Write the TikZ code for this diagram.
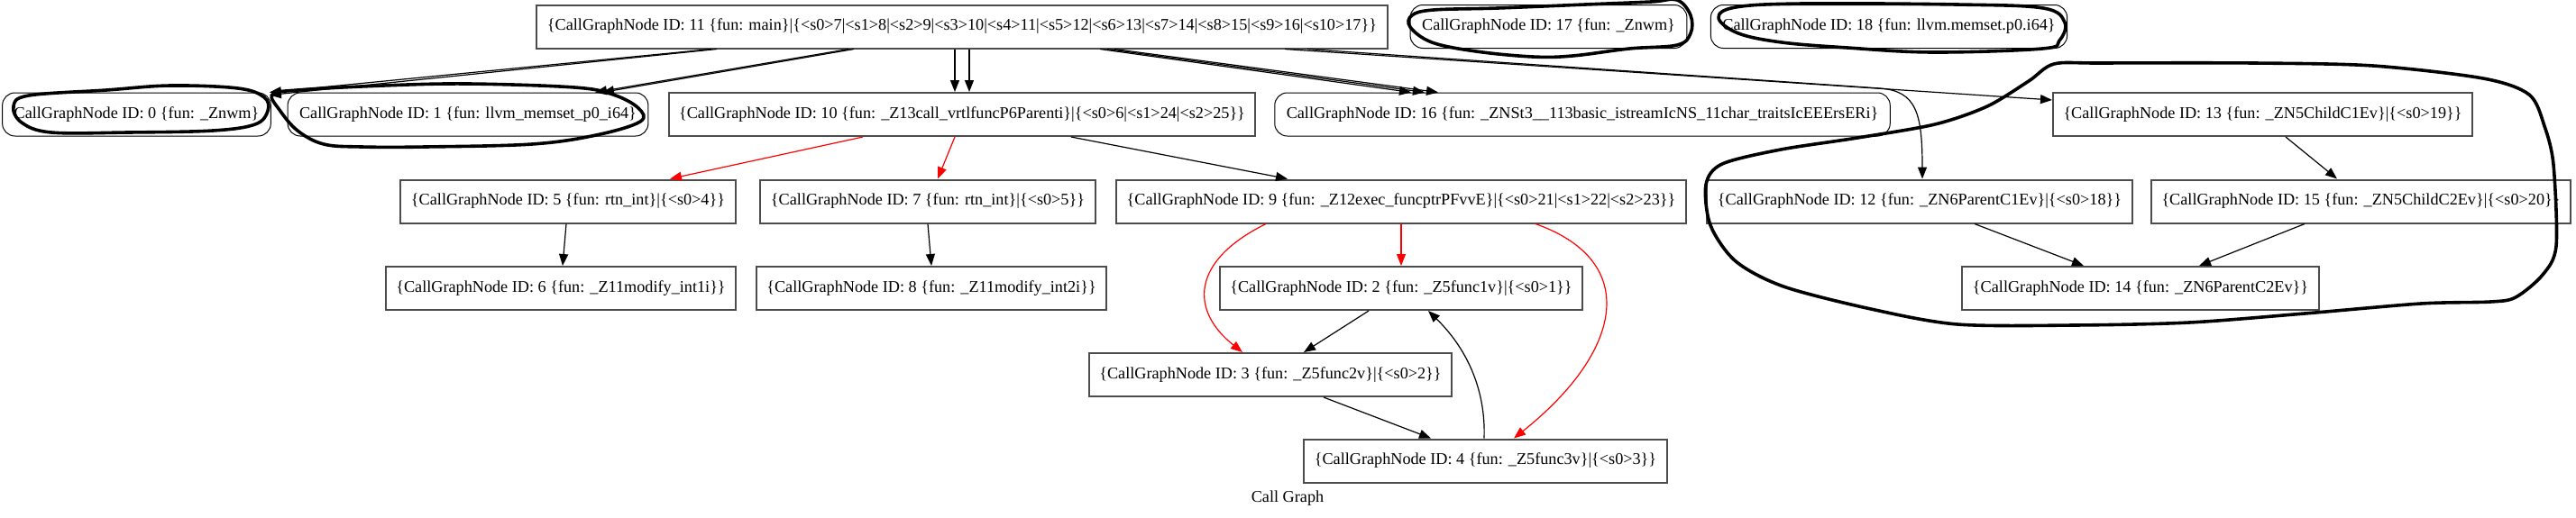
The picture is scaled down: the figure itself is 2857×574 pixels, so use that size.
\documentclass[tikz,border=0pt]{standalone}
\usepackage{fontspec}
\setmainfont{Liberation Serif}
\usetikzlibrary{arrows.meta}

\begin{document}
\begin{tikzpicture}[x=.5pt,y=-.5pt,line width=.6pt,font=\fontsize{9.1}{11}\selectfont,
  rec/.style={draw=black!70,line width=1pt,minimum height=24pt,inner xsep=5.75pt,inner ysep=0pt},
  mrec/.style={draw,line width=.5pt,rounded corners=7pt,minimum height=24pt,inner xsep=6.5pt,inner ysep=0pt},
  call/.style={-{Triangle[length=6.5pt,width=5pt]}},
  vcall/.style={call,red},
  scrawl/.style={line width=1.8pt,line join=round,line cap=round}]
\useasboundingbox (0,0) rectangle (2857,574);
\node[rec] (n11) at (1067,29.5) {\{CallGraphNode ID: 11 \{fun: main\}|\{<s0>7|<s1>8|<s2>9|<s3>10|<s4>11|<s5>12|<s6>13|<s7>14|<s8>15|<s9>16|<s10>17\}\}};
\node[mrec] (n17) at (1717.5,29.5) {CallGraphNode ID: 17 \{fun: \_Znwm\}};
\node[mrec] (n18) at (2095,29.5) {CallGraphNode ID: 18 \{fun: llvm.memset.p0.i64\}};
\node[mrec] (n0) at (151.5,127) {CallGraphNode ID: 0 \{fun: \_Znwm\}};
\node[mrec] (n1) at (519,127) {CallGraphNode ID: 1 \{fun: llvm\_memset\_p0\_i64\}};
\node[rec] (n10) at (1067,127) {\{CallGraphNode ID: 10 \{fun: \_Z13call\_vrtlfuncP6Parenti\}|\{<s0>6|<s1>24|<s2>25\}\}};
\node[mrec] (n16) at (1755,127) {CallGraphNode ID: 16 \{fun: \_ZNSt3\_\_113basic\_istreamIcNS\_11char\_traitsIcEEErsERi\}};
\node[rec] (n13) at (2509.5,127) {\{CallGraphNode ID: 13 \{fun: \_ZN5ChildC1Ev\}|\{<s0>19\}\}};
\node[rec] (n5) at (630,223.5) {\{CallGraphNode ID: 5 \{fun: rtn\_int\}|\{<s0>4\}\}};
\node[rec] (n7) at (1029,223.5) {\{CallGraphNode ID: 7 \{fun: rtn\_int\}|\{<s0>5\}\}};
\node[rec] (n9) at (1554,223.5) {\{CallGraphNode ID: 9 \{fun: \_Z12exec\_funcptrPFvvE\}|\{<s0>21|<s1>22|<s2>23\}\}};
\node[rec] (n12) at (2129,223.5) {\{CallGraphNode ID: 12 \{fun: \_ZN6ParentC1Ev\}|\{<s0>18\}\}};
\node[rec] (n15) at (2618.5,223.5) {\{CallGraphNode ID: 15 \{fun: \_ZN5ChildC2Ev\}|\{<s0>20\}\}};
\node[rec] (n6) at (622,320) {\{CallGraphNode ID: 6 \{fun: \_Z11modify\_int1i\}\}};
\node[rec] (n8) at (1033,320) {\{CallGraphNode ID: 8 \{fun: \_Z11modify\_int2i\}\}};
\node[rec] (n2) at (1554,320) {\{CallGraphNode ID: 2 \{fun: \_Z5func1v\}|\{<s0>1\}\}};
\node[rec] (n14) at (2374,320) {\{CallGraphNode ID: 14 \{fun: \_ZN6ParentC2Ev\}\}};
\node[rec] (n3) at (1409,416) {\{CallGraphNode ID: 3 \{fun: \_Z5func2v\}|\{<s0>2\}\}};
\node[rec] (n4) at (1647.5,511.5) {\{CallGraphNode ID: 4 \{fun: \_Z5func3v\}|\{<s0>3\}\}};
\node (title) at (1428,553) {Call Graph};
\draw[call] ([xshift=-139pt]n11.south) -- ([xshift=-1pt]n0.north east);
\draw[call] ([xshift=-136pt]n11.south) -- ([xshift=-1pt,yshift=-1.5pt]n0.north east);
\draw[call] ([xshift=-63pt]n11.south) -- ([xshift=70.5pt]n1.north);
\draw[call] ([xshift=-60pt]n11.south) -- ([xshift=74.5pt]n1.north);
\draw[call] ([xshift=-4pt]n11.south) -- ([xshift=-4pt]n10.north);
\draw[call] ([xshift=4pt]n11.south) -- ([xshift=4pt]n10.north);
\draw[call] ([xshift=76.5pt]n11.south) -- ([xshift=-95pt]n16.north);
\draw[call] ([xshift=80.5pt]n11.south) -- ([xshift=-87.5pt]n16.north);
\draw[call] ([xshift=84.5pt]n11.south) -- ([xshift=-80pt]n16.north);
\draw[call] ([xshift=179pt]n11.south) -- ([yshift=8pt]n13.west);
\draw[call] ([xshift=191.5pt]n11.south) -- (2085,98) .. controls (2125,101) and (2132,125) .. ([xshift=1.5pt]n12.north);
\draw[vcall] ([xshift=-55pt]n10.south) -- ([xshift=56.5pt]n5.north);
\draw[vcall] ([xshift=-4pt]n10.south) -- ([xshift=5.5pt]n7.north);
\draw[call] ([xshift=60.5pt]n10.south) -- ([xshift=-63pt]n9.north);
\draw[call] ([xshift=-1pt]n5.south) -- ([xshift=1pt]n6.north);
\draw[call] (n7.south) -- (n8.north);
\draw[vcall] (n9.south) -- (n2.north);
\draw[vcall] ([xshift=-75pt]n9.south) .. controls (1320,290) and (1320,345) .. ([xshift=-15.5pt]n3.north);
\draw[vcall] ([xshift=74.5pt]n9.south) .. controls (1820,290) and (1800,390) .. ([xshift=15.75pt]n4.north);
\draw[call] ([xshift=-18pt]n2.south) -- ([xshift=18.5pt]n3.north);
\draw[call] ([xshift=29.5pt]n3.south) -- ([xshift=-30.25pt]n4.north);
\draw[call] ([xshift=-.75pt]n4.north) .. controls (1648,430) and (1625,385) .. ([xshift=15pt]n2.south);
\draw[call] ([xshift=12.75pt]n13.south) -- ([xshift=-13.25pt]n15.north);
\draw[call] ([xshift=30.5pt]n12.south) -- ([xshift=-31.5pt]n14.north);
\draw[call] ([xshift=-31.25pt]n15.south) -- ([xshift=32.5pt]n14.north);
\draw[scrawl] plot[smooth cycle,tension=.6] coordinates {(15,118) (32,106) (118,100) (189,95) (264,98) (293,108) (297,123) (283,138) (236,145) (142,147) (57,147) (24,136)};
\draw[scrawl] plot[smooth cycle,tension=.6] coordinates {(302,105) (330,100) (425,95) (519,93) (637,97) (680,105) (708,120) (710,135) (661,150) (590,160) (472,163) (401,163) (359,160) (330,145) (310,122)};
\draw[scrawl] plot[smooth cycle,tension=.6] coordinates {(1860,0) (1875,17) (1875,37) (1860,50) (1807,54) (1744,62) (1700,63) (1637,57) (1588,47) (1564,30) (1566,17) (1590,11) (1661,9) (1758,5) (1831,2)};
\draw[scrawl] plot[smooth cycle,tension=.6] coordinates {(1906,20) (1925,8) (2000,4) (2170,5) (2266,9) (2290,25) (2284,45) (2265,54) (2144,58) (2049,53) (1976,47) (1928,37)};
\draw[scrawl] plot[smooth cycle,tension=.5] coordinates {(2278,71) (2330,70) (2500,70) (2632,73) (2754,87) (2805,105) (2822,140) (2832,183) (2835,273) (2820,305) (2790,330) (2762,335) (2685,337) (2556,348) (2428,358) (2300,361) (2171,360) (2075,343) (1978,318) (1925,290) (1897,250) (1892,205) (1910,182) (1975,166) (2060,153) (2146,138) (2204,118) (2250,90)};
\end{tikzpicture}
\end{document}
